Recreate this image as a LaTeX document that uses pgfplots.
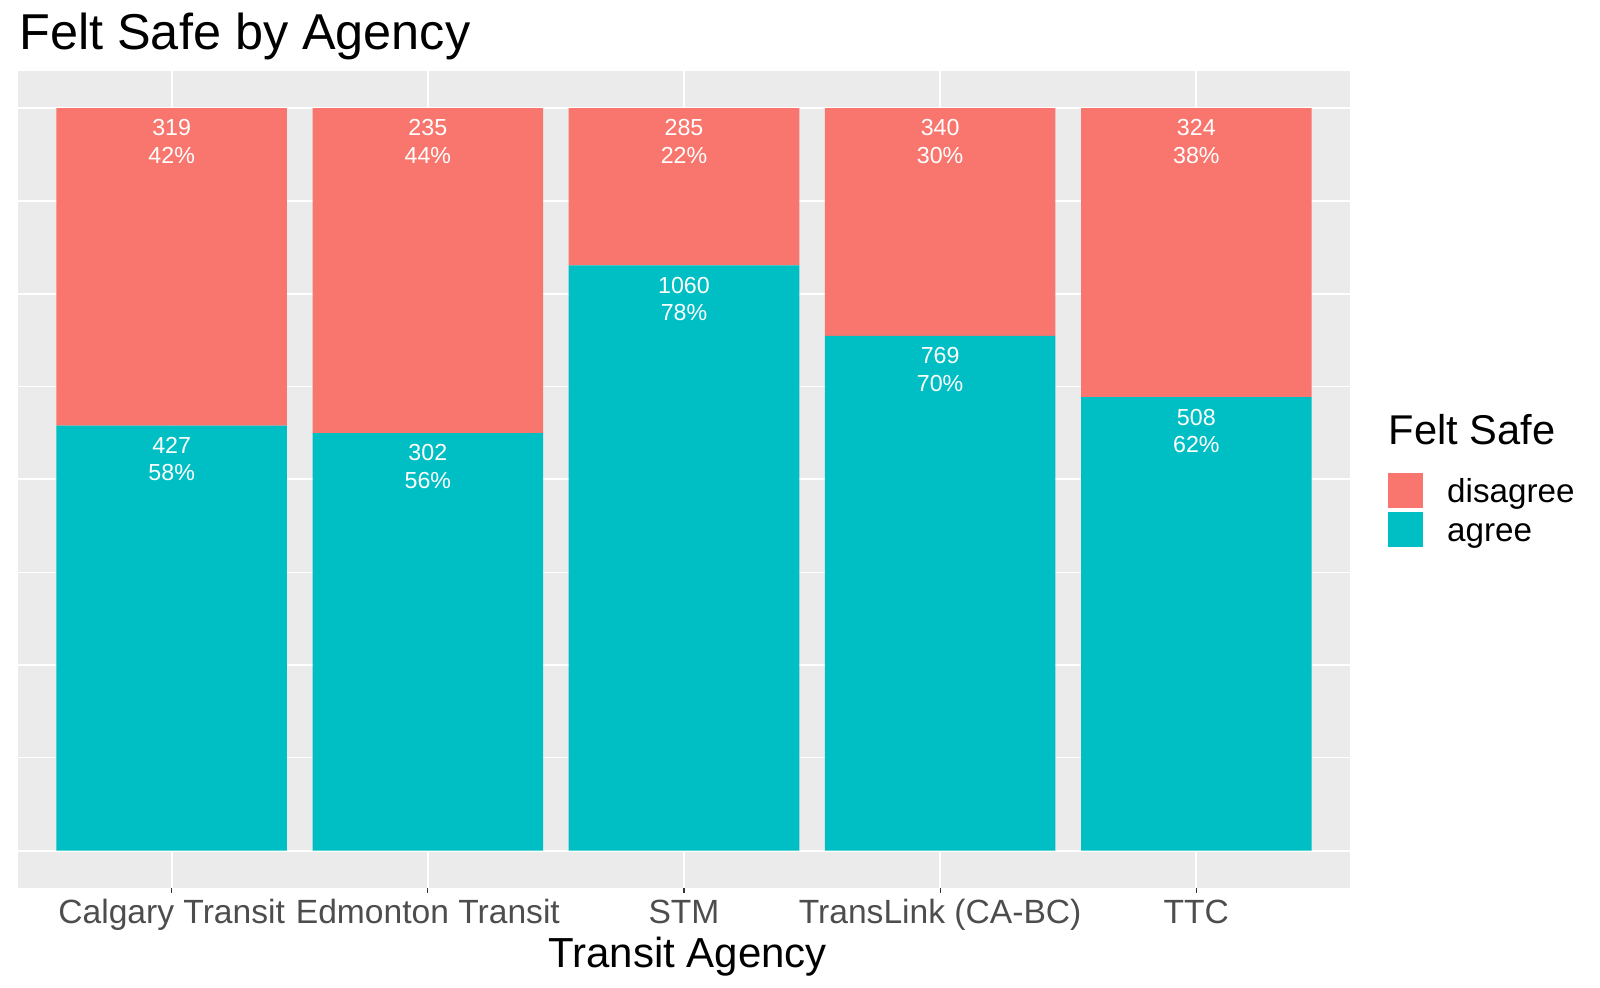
\documentclass[border=0pt]{standalone}
\usepackage{fontspec}
\setmainfont{Liberation Sans}
\usepackage{pgfplots}
\usepackage{pgfplotstable}
\pgfplotsset{compat=1.18}
\definecolor{cdis}{HTML}{F8766D}
\definecolor{cagr}{HTML}{00BFC4}
\definecolor{panelbg}{HTML}{EBEBEB}
\definecolor{ticklab}{HTML}{4D4D4D}
\definecolor{tickcol}{HTML}{333333}
% x  agree-share agree-count agree-pct  disagree-share disagree-count disagree-pct
\pgfplotstableread{
x  ash    an    ap  dsh    dn   dp
1  0.5724 427   58  0.4276 319  42
2  0.5624 302   56  0.4376 235  44
3  0.7881 1060  78  0.2119 285  22
4  0.6934 769   70  0.3066 340  30
5  0.6106 508   62  0.3894 324  38
}\felt
\begin{document}
\begin{tikzpicture}
\path[use as bounding box] (0,0) rectangle (800bp,494bp);
\begin{axis}[
  at={(9bp,50.15bp)}, anchor=south west,
  scale only axis, width=666bp, height=408.35bp,
  xmin=0.4, xmax=5.6, ymin=-0.05, ymax=1.05,
  axis background/.style={fill=panelbg},
  axis line style={draw=none},
  ybar stacked, bar width=0.9,
  xtick={1,2,3,4,5},
  xticklabels={Calgary Transit,Edmonton Transit,STM,TransLink (CA-BC),TTC},
  xtick pos=bottom, tick align=outside,
  major tick length=2.75bp,
  xtick style={draw=tickcol, line width=0.55bp},
  xticklabel style={font=\fontsize{16.8bp}{18bp}\selectfont, text=ticklab, anchor=base, yshift=-15.3bp},
  ytick={0,0.25,0.5,0.75,1},
  minor ytick={0.125,0.375,0.625,0.875},
  yticklabels={}, ytick style={draw=none}, minor y tick style={draw=none},
  ymajorgrids, xmajorgrids, yminorgrids,
  major grid style={white, line width=1bp},
  minor grid style={white, line width=0.6bp},
  legend style={at={(1.0285,0.5081)}, anchor=north west, draw=none, fill=none,
    inner sep=0pt, row sep=1.9bp,
    nodes={inner sep=0pt, anchor=west, text height=11.8bp, text depth=0pt,
      font=\fontsize{16.6bp}{18bp}\selectfont}},
  legend image code/.code={\fill[#1] (0bp,-8.75bp) rectangle (17.5bp,8.75bp); \path (29.4bp,0bp);},
  reverse legend,
  /pgf/number format/.cd, fixed, precision=0, 1000 sep={}, assume math mode=true, /pgfplots/.cd,
  nodes near coords,
  every node near coord/.append style={anchor=north, yshift=\hshift bp-5.6bp, inner sep=0pt,
    text=white, align=center, font=\fontsize{11.6bp}{13.8bp}\selectfont},
]
\addplot[fill=cagr, draw=none,
  visualization depends on={\thisrow{an}\as\labn},
  visualization depends on={\thisrow{ap}\as\labp},
  visualization depends on={\thisrow{ash}*185.614\as\hshift},
  nodes near coords={\pgfmathprintnumber{\labn}\\\pgfmathprintnumber{\labp}\%}] table[x=x, y=ash] {\felt};
\addlegendentry{agree}
\addplot[fill=cdis, draw=none,
  visualization depends on={\thisrow{dn}\as\labn},
  visualization depends on={\thisrow{dp}\as\labp},
  visualization depends on={\thisrow{dsh}*185.614\as\hshift},
  nodes near coords={\pgfmathprintnumber{\labn}\\\pgfmathprintnumber{\labp}\%}] table[x=x, y=dsh] {\felt};
\addlegendentry{disagree}
\end{axis}
\node[anchor=base west, inner sep=0pt, font=\fontsize{25.2bp}{28bp}\selectfont] at (9.5bp,469.3bp) {Felt Safe by Agency};
\node[anchor=base, inner sep=0pt, font=\fontsize{21bp}{23bp}\selectfont] at (343.8bp,10.35bp) {Transit Agency};
\node[anchor=base west, inner sep=0pt, font=\fontsize{20.8bp}{22bp}\selectfont] at (694.2bp,271.5bp) {Felt Safe};
\end{tikzpicture}
\end{document}
